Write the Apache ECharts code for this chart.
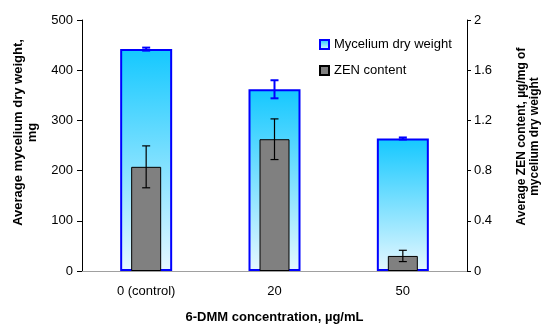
<!DOCTYPE html>
<html>
<head>
<meta charset="utf-8">
<script src="https://cdn.jsdelivr.net/npm/echarts@6/dist/echarts.min.js"></script>
<style>
  html, body { margin: 0; padding: 0; background: #fff; }
  #chart { width: 546px; height: 325px; }
</style>
</head>
<body>
<div id="chart"></div>
<script>
// data
var categories = ['0 (control)', '20', '50'];
var myceliumWeight = [442, 362, 264];      // mg
var myceliumErr = [3, 18, 2];
var zenContent = [0.83, 1.05, 0.12];       // ug/mg
var zenErr = [0.167, 0.162, 0.045];
var leftTicks = [0, 500, 100];
var rightTicks = [0, 2, 0.4];

var font = 'Liberation Sans, Arial, sans-serif';

function errData(means, errs) {
  return means.map(function (m, i) { return [i, m - errs[i], m + errs[i]]; });
}

function errRender(color, lw) {
  return function (params, api) {
    var x = api.value(0);
    var top = api.coord([x, api.value(2)]);
    var bot = api.coord([x, api.value(1)]);
    var w = 4;
    var st = { stroke: color, lineWidth: lw };
    return {
      type: 'group',
      children: [
        { type: 'line', shape: { x1: top[0], y1: top[1], x2: bot[0], y2: bot[1] }, style: st },
        { type: 'line', shape: { x1: top[0] - w, y1: top[1], x2: top[0] + w, y2: top[1] }, style: st },
        { type: 'line', shape: { x1: bot[0] - w, y1: bot[1], x2: bot[0] + w, y2: bot[1] }, style: st }
      ]
    };
  };
}

var chart = echarts.init(document.getElementById('chart'));
chart.setOption({
  animation: false,
  textStyle: { fontFamily: font },
  grid: { left: 82, right: 79, top: 20, bottom: 54, containLabel: false, outerBoundsMode: 'none' },
  legend: {
    orient: 'vertical',
    left: 314,
    top: 33,
    itemWidth: 9,
    itemHeight: 9,
    itemGap: 13,
    icon: 'rect',
    textStyle: { fontFamily: font, fontSize: 13, color: '#000' },
    data: ['Mycelium dry weight', 'ZEN content']
  },
  xAxis: [
    {
      type: 'category',
      data: categories,
      axisLine: { lineStyle: { color: '#000', width: 1 } },
      axisTick: { length: 5, lineStyle: { color: '#000' } },
      axisLabel: { color: '#000', fontSize: 13, margin: 14 },
      name: '6-DMM concentration, µg/mL',
      nameLocation: 'middle',
      nameGap: 40,
      nameTextStyle: { color: '#000', fontWeight: 'bold', fontSize: 13 }
    },
    {
      type: 'category',
      data: categories,
      position: 'top',
      axisLine: { lineStyle: { color: '#a0a0a0', width: 1 } },
      axisTick: { show: false },
      axisLabel: { show: false }
    }
  ],
  yAxis: [
    {
      type: 'value',
      min: leftTicks[0], max: leftTicks[1], interval: leftTicks[2],
      axisLine: { show: true, lineStyle: { color: '#000' } },
      axisTick: { show: true, length: 5, lineStyle: { color: '#000' } },
      axisLabel: { color: '#000', fontSize: 13, margin: 9 },
      splitLine: { show: false },
      name: 'Average mycelium dry weight,\nmg',
      nameLocation: 'middle',
      nameRotate: 90,
      nameGap: 43,
      nameTextStyle: { color: '#000', fontWeight: 'bold', fontSize: 13, lineHeight: 14, padding: [0, 0, 0, 26] }
    },
    {
      type: 'value',
      position: 'right',
      min: rightTicks[0], max: rightTicks[1], interval: rightTicks[2],
      axisLine: { show: true, lineStyle: { color: '#000' } },
      axisTick: { show: true, length: 4, lineStyle: { color: '#000' } },
      axisLabel: { color: '#000', fontSize: 13, margin: 7 },
      splitLine: { show: false },
      name: 'Average ZEN content, µg/mg of\nmycelium dry weight',
      nameLocation: 'middle',
      nameRotate: 90,
      nameGap: 48,
      nameTextStyle: { color: '#000', fontWeight: 'bold', fontSize: 12, lineHeight: 13, padding: [0, 0, 0, 18] }
    }
  ],
  series: [
    {
      name: 'Mycelium dry weight',
      type: 'bar',
      xAxisIndex: 0,
      yAxisIndex: 0,
      barWidth: 52,
      data: myceliumWeight,
      itemStyle: {
        color: {
          type: 'linear', x: 0, y: 0, x2: 0, y2: 1,
          colorStops: [
            { offset: 0, color: '#14c8ff' },
            { offset: 1, color: '#e6f8ff' }
          ]
        },
        borderColor: '#0000ff',
        borderWidth: 2
      }
    },
    {
      name: 'mycelium err',
      type: 'custom',
      xAxisIndex: 0,
      yAxisIndex: 0,
      encode: { x: 0, y: [1, 2] },
      data: errData(myceliumWeight, myceliumErr),
      renderItem: errRender('#0000ff', 2),
      z: 3
    },
    {
      name: 'ZEN content',
      type: 'bar',
      xAxisIndex: 1,
      yAxisIndex: 1,
      barWidth: 30,
      data: zenContent,
      itemStyle: { color: '#808080', borderColor: '#000', borderWidth: 1 },
      z: 4
    },
    {
      name: 'zen err',
      type: 'custom',
      xAxisIndex: 1,
      yAxisIndex: 1,
      encode: { x: 0, y: [1, 2] },
      data: errData(zenContent, zenErr),
      renderItem: errRender('#000', 1.2),
      z: 5
    }
  ]
});
</script>
</body>
</html>
